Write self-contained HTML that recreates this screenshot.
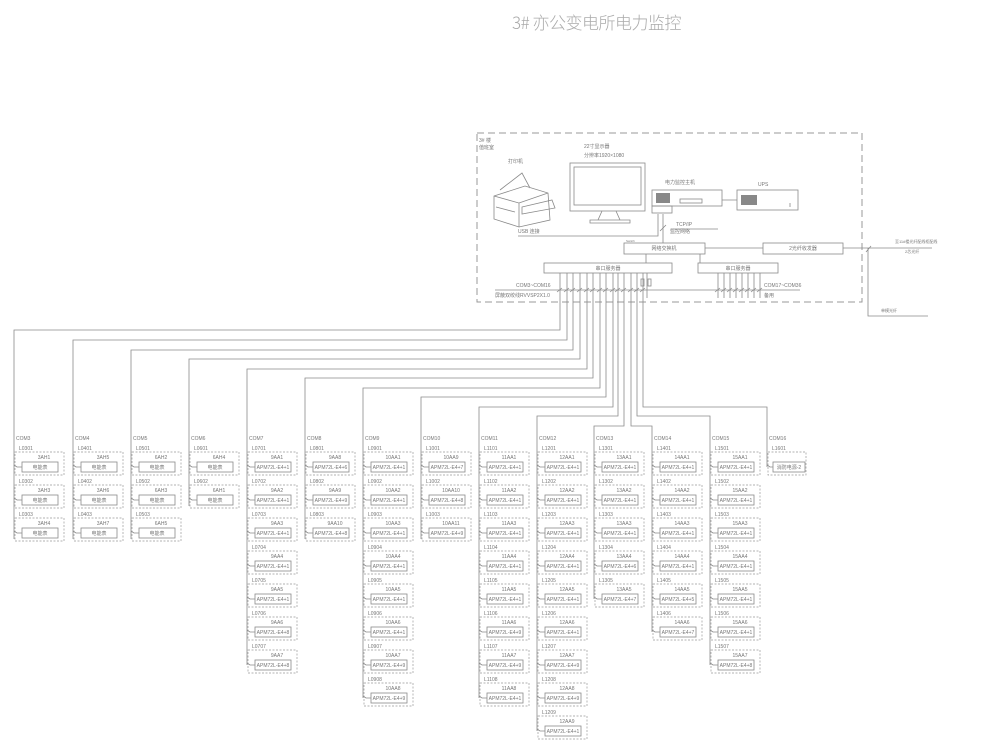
<!DOCTYPE html>
<html><head><meta charset="utf-8">
<style>
html,body{margin:0;padding:0;background:#fff;width:1000px;height:751px;overflow:hidden}
svg{display:block}
text{font-family:"Liberation Sans","Noto Sans CJK SC",sans-serif;fill:#777}
.l{stroke:#8a8a8a;stroke-width:0.8;fill:none}
.d{stroke:#999;stroke-width:0.7;fill:none;stroke-dasharray:2,1.5}
.s{font-size:5px}
.m{font-size:5px;text-anchor:middle}
</style></head><body>
<svg width="1000" height="751" viewBox="0 0 1000 751" xmlns="http://www.w3.org/2000/svg">
<defs>
<g id="bx">
<rect class="d" x="1" y="0" width="49" height="23"/>
<rect class="l" x="8" y="10" width="36" height="10"/>
<path class="l" d="M0 13 L3 15 L8 15"/>
</g>
</defs>
<text x="512" y="29" style="font-size:17px;fill:#aaa;font-family:'Noto Sans CJK SC','Liberation Sans',sans-serif;font-weight:300;letter-spacing:-0.5px">3# 亦公变电所电力监控</text>

<rect x="477" y="133" width="385" height="169" fill="none" stroke="#999" stroke-width="1" stroke-dasharray="7,4"/>
<text x="479" y="142" class="s">3# 楼</text>
<text x="479" y="149" class="s">值班室</text>
<text x="508" y="163" class="s">打印机</text>
<path class="l" d="M494 196 L525 186 L548 193 L550 220 L519 227 L494 219 Z M494 196 L519 203 L519 227 M519 203 L548 193 M500 190 L522 173 L530 188 M522 207 L552 200 L555 208 L522 214 Z M496 207 L515 212"/>
<text x="518" y="233" class="s">USB 连接</text>
<path class="l" d="M518 236 L658 236 L658 214"/>
<text x="584" y="148" class="s">22寸显示器</text>
<text x="584" y="157" class="s">分辨率1920×1080</text>
<rect class="l" x="570" y="163" width="75" height="48"/>
<rect class="l" x="574" y="167" width="67" height="38"/>
<path class="l" d="M602 211 L598 220 L620 220 L616 211 M590 220 L630 220 L630 223 L590 223 Z"/>
<text x="665" y="184" class="s">电力监控主机</text>
<rect class="l" x="652" y="190" width="70" height="16"/>
<rect class="l" x="652" y="206" width="20" height="7"/>
<rect x="656" y="193" width="14" height="10" fill="#888"/>
<rect class="l" x="680" y="199" width="22" height="4"/>
<text x="758" y="186" class="s">UPS</text>
<rect class="l" x="737" y="190" width="61" height="20"/>
<rect x="741" y="195" width="16" height="10" fill="#888"/>
<path class="l" d="M722 200 L737 200 M790 203 L790 207"/>
<text x="676" y="226" class="s">TCP/IP</text>
<text x="670" y="233" class="s">监控网络</text>
<path class="l" d="M663 214 L663 243 M660 231 L666 225 M671 229 L718 229"/>
<rect class="l" x="624" y="243" width="81" height="11"/>
<text x="664" y="250" class="m">网络交换机</text>
<text x="626" y="242" style="font-size:3px">Switch</text>
<rect class="l" x="763" y="243" width="80" height="11"/>
<text x="803" y="250" class="m">2光纤收发器</text>
<path class="l" d="M705 248 L763 248 M843 248 L868 248 M646 254 L646 263 M700 254 L700 263"/>
<rect class="l" x="544" y="263" width="128" height="10"/>
<text x="608" y="270" class="m">串口服务器</text>
<rect class="l" x="698" y="263" width="80" height="10"/>
<text x="738" y="270" class="m">串口服务器</text>
<path class="l" d="M495 290 L800 290"/>
<text x="516" y="287" class="s">COM3~COM16</text>
<text x="495" y="297" class="s">屏蔽双绞线RVVSP2X1.0</text>
<text x="764" y="287" class="s">COM17~COM36</text>
<text x="764" y="297" class="s">备用</text>
<path class="l" d="M567 273 L567 298 M573 273 L573 298 M580 273 L580 298 M587 273 L587 298 M593 273 L593 298 M600 273 L600 298 M606 273 L606 298 M613 273 L613 298 M618 273 L618 298 M624 273 L624 298 M631 273 L631 298 M637 273 L637 298 M560 273 L560 298 M643 273 L643 298 M647 273 L647 298"/>
<rect class="l" x="641" y="279" width="3" height="7"/><rect class="l" x="648" y="279" width="3" height="7"/>
<path class="l" d="M718 273 L718 298 M724 273 L724 298 M730 273 L730 298 M736 273 L736 298 M742 273 L742 298 M748 273 L748 298 M754 273 L754 298 M760 273 L760 298"/>
<path class="l" d="M557 292 L562 288 M564 292 L569 288 M570 292 L575 288 M577 292 L582 288 M584 292 L589 288 M590 292 L595 288 M597 292 L602 288 M603 292 L608 288 M610 292 L615 288 M615 292 L620 288 M621 292 L626 288 M628 292 L633 288 M634 292 L639 288 M640 292 L645 288 M715 292 L720 288 M721 292 L726 288 M727 292 L732 288 M733 292 L738 288 M739 292 L744 288 M745 292 L750 288 M751 292 L756 288 M757 292 L762 288"/>
<path class="l" d="M868 248 L932 248 M868 248 L868 316 L928 316 M866 252 L871 246"/>
<text x="895" y="243" style="font-size:4px">至11#楼光纤配线柜配线</text>
<text x="905" y="253" style="font-size:4px">2芯光纤</text>
<text x="881" y="312" style="font-size:4px">单模光纤</text>

<path class="l" d="M560 298 L560 330 L14 330 L14 539"/>
<path class="l" d="M567 298 L567 340 L73 340 L73 539"/>
<path class="l" d="M573 298 L573 350 L131 350 L131 539"/>
<path class="l" d="M580 298 L580 359 L189 359 L189 506"/>
<path class="l" d="M587 298 L587 369 L247 369 L247 665"/>
<path class="l" d="M593 298 L593 378 L305 378 L305 539"/>
<path class="l" d="M600 298 L600 388 L363 388 L363 698"/>
<path class="l" d="M606 298 L606 397 L421 397 L421 539"/>
<path class="l" d="M613 298 L613 407 L479 407 L479 698"/>
<path class="l" d="M618 298 L618 416 L537 416 L537 731"/>
<path class="l" d="M624 298 L624 426 L594 426 L594 599"/>
<path class="l" d="M631 298 L631 426 L652 426 L652 632"/>
<path class="l" d="M637 298 L637 416 L710 416 L710 665"/>
<path class="l" d="M643 298 L643 407 L767 407 L767 467"/>

<g class="s">
<text x="16" y="440">COM3</text><text x="75" y="440">COM4</text><text x="133" y="440">COM5</text><text x="191" y="440">COM6</text><text x="249" y="440">COM7</text><text x="307" y="440">COM8</text><text x="365" y="440">COM9</text><text x="423" y="440">COM10</text><text x="481" y="440">COM11</text><text x="539" y="440">COM12</text><text x="596" y="440">COM13</text><text x="654" y="440">COM14</text><text x="712" y="440">COM15</text><text x="769" y="440">COM16</text>
</g>

<g transform="translate(14,452)"><use href="#bx"/><text x="5" y="-2" class="s">L0301</text><text x="30" y="7" class="m">3AH1</text><text x="26" y="17" class="m">电能表</text></g>
<g transform="translate(14,485)"><use href="#bx"/><text x="5" y="-2" class="s">L0302</text><text x="30" y="7" class="m">3AH3</text><text x="26" y="17" class="m">电能表</text></g>
<g transform="translate(14,518)"><use href="#bx"/><text x="5" y="-2" class="s">L0303</text><text x="30" y="7" class="m">3AH4</text><text x="26" y="17" class="m">电能表</text></g>
<g transform="translate(73,452)"><use href="#bx"/><text x="5" y="-2" class="s">L0401</text><text x="30" y="7" class="m">3AH5</text><text x="26" y="17" class="m">电能表</text></g>
<g transform="translate(73,485)"><use href="#bx"/><text x="5" y="-2" class="s">L0402</text><text x="30" y="7" class="m">3AH6</text><text x="26" y="17" class="m">电能表</text></g>
<g transform="translate(73,518)"><use href="#bx"/><text x="5" y="-2" class="s">L0403</text><text x="30" y="7" class="m">3AH7</text><text x="26" y="17" class="m">电能表</text></g>
<g transform="translate(131,452)"><use href="#bx"/><text x="5" y="-2" class="s">L0501</text><text x="30" y="7" class="m">6AH2</text><text x="26" y="17" class="m">电能表</text></g>
<g transform="translate(131,485)"><use href="#bx"/><text x="5" y="-2" class="s">L0502</text><text x="30" y="7" class="m">6AH3</text><text x="26" y="17" class="m">电能表</text></g>
<g transform="translate(131,518)"><use href="#bx"/><text x="5" y="-2" class="s">L0503</text><text x="30" y="7" class="m">6AH5</text><text x="26" y="17" class="m">电能表</text></g>
<g transform="translate(189,452)"><use href="#bx"/><text x="5" y="-2" class="s">L0601</text><text x="30" y="7" class="m">6AH4</text><text x="26" y="17" class="m">电能表</text></g>
<g transform="translate(189,485)"><use href="#bx"/><text x="5" y="-2" class="s">L0602</text><text x="30" y="7" class="m">6AH1</text><text x="26" y="17" class="m">电能表</text></g>
<g transform="translate(247,452)"><use href="#bx"/><text x="5" y="-2" class="s">L0701</text><text x="30" y="7" class="m">9AA1</text><text x="26" y="17" class="m">APM72L-E4+1</text></g>
<g transform="translate(247,485)"><use href="#bx"/><text x="5" y="-2" class="s">L0702</text><text x="30" y="7" class="m">9AA2</text><text x="26" y="17" class="m">APM72L-E4+1</text></g>
<g transform="translate(247,518)"><use href="#bx"/><text x="5" y="-2" class="s">L0703</text><text x="30" y="7" class="m">9AA3</text><text x="26" y="17" class="m">APM72L-E4+1</text></g>
<g transform="translate(247,551)"><use href="#bx"/><text x="5" y="-2" class="s">L0704</text><text x="30" y="7" class="m">9AA4</text><text x="26" y="17" class="m">APM72L-E4+1</text></g>
<g transform="translate(247,584)"><use href="#bx"/><text x="5" y="-2" class="s">L0705</text><text x="30" y="7" class="m">9AA5</text><text x="26" y="17" class="m">APM72L-E4+1</text></g>
<g transform="translate(247,617)"><use href="#bx"/><text x="5" y="-2" class="s">L0706</text><text x="30" y="7" class="m">9AA6</text><text x="26" y="17" class="m">APM72L-E4+8</text></g>
<g transform="translate(247,650)"><use href="#bx"/><text x="5" y="-2" class="s">L0707</text><text x="30" y="7" class="m">9AA7</text><text x="26" y="17" class="m">APM72L-E4+8</text></g>
<g transform="translate(305,452)"><use href="#bx"/><text x="5" y="-2" class="s">L0801</text><text x="30" y="7" class="m">9AA8</text><text x="26" y="17" class="m">APM72L-E4+6</text></g>
<g transform="translate(305,485)"><use href="#bx"/><text x="5" y="-2" class="s">L0802</text><text x="30" y="7" class="m">9AA9</text><text x="26" y="17" class="m">APM72L-E4+9</text></g>
<g transform="translate(305,518)"><use href="#bx"/><text x="5" y="-2" class="s">L0803</text><text x="30" y="7" class="m">9AA10</text><text x="26" y="17" class="m">APM72L-E4+8</text></g>
<g transform="translate(363,452)"><use href="#bx"/><text x="5" y="-2" class="s">L0901</text><text x="30" y="7" class="m">10AA1</text><text x="26" y="17" class="m">APM72L-E4+1</text></g>
<g transform="translate(363,485)"><use href="#bx"/><text x="5" y="-2" class="s">L0902</text><text x="30" y="7" class="m">10AA2</text><text x="26" y="17" class="m">APM72L-E4+1</text></g>
<g transform="translate(363,518)"><use href="#bx"/><text x="5" y="-2" class="s">L0903</text><text x="30" y="7" class="m">10AA3</text><text x="26" y="17" class="m">APM72L-E4+1</text></g>
<g transform="translate(363,551)"><use href="#bx"/><text x="5" y="-2" class="s">L0904</text><text x="30" y="7" class="m">10AA4</text><text x="26" y="17" class="m">APM72L-E4+1</text></g>
<g transform="translate(363,584)"><use href="#bx"/><text x="5" y="-2" class="s">L0905</text><text x="30" y="7" class="m">10AA5</text><text x="26" y="17" class="m">APM72L-E4+1</text></g>
<g transform="translate(363,617)"><use href="#bx"/><text x="5" y="-2" class="s">L0906</text><text x="30" y="7" class="m">10AA6</text><text x="26" y="17" class="m">APM72L-E4+1</text></g>
<g transform="translate(363,650)"><use href="#bx"/><text x="5" y="-2" class="s">L0907</text><text x="30" y="7" class="m">10AA7</text><text x="26" y="17" class="m">APM72L-E4+9</text></g>
<g transform="translate(363,683)"><use href="#bx"/><text x="5" y="-2" class="s">L0908</text><text x="30" y="7" class="m">10AA8</text><text x="26" y="17" class="m">APM72L-E4+9</text></g>
<g transform="translate(421,452)"><use href="#bx"/><text x="5" y="-2" class="s">L1001</text><text x="30" y="7" class="m">10AA9</text><text x="26" y="17" class="m">APM72L-E4+7</text></g>
<g transform="translate(421,485)"><use href="#bx"/><text x="5" y="-2" class="s">L1002</text><text x="30" y="7" class="m">10AA10</text><text x="26" y="17" class="m">APM72L-E4+8</text></g>
<g transform="translate(421,518)"><use href="#bx"/><text x="5" y="-2" class="s">L1003</text><text x="30" y="7" class="m">10AA11</text><text x="26" y="17" class="m">APM72L-E4+9</text></g>
<g transform="translate(479,452)"><use href="#bx"/><text x="5" y="-2" class="s">L1101</text><text x="30" y="7" class="m">11AA1</text><text x="26" y="17" class="m">APM72L-E4+1</text></g>
<g transform="translate(479,485)"><use href="#bx"/><text x="5" y="-2" class="s">L1102</text><text x="30" y="7" class="m">11AA2</text><text x="26" y="17" class="m">APM72L-E4+1</text></g>
<g transform="translate(479,518)"><use href="#bx"/><text x="5" y="-2" class="s">L1103</text><text x="30" y="7" class="m">11AA3</text><text x="26" y="17" class="m">APM72L-E4+1</text></g>
<g transform="translate(479,551)"><use href="#bx"/><text x="5" y="-2" class="s">L1104</text><text x="30" y="7" class="m">11AA4</text><text x="26" y="17" class="m">APM72L-E4+1</text></g>
<g transform="translate(479,584)"><use href="#bx"/><text x="5" y="-2" class="s">L1105</text><text x="30" y="7" class="m">11AA5</text><text x="26" y="17" class="m">APM72L-E4+1</text></g>
<g transform="translate(479,617)"><use href="#bx"/><text x="5" y="-2" class="s">L1106</text><text x="30" y="7" class="m">11AA6</text><text x="26" y="17" class="m">APM72L-E4+9</text></g>
<g transform="translate(479,650)"><use href="#bx"/><text x="5" y="-2" class="s">L1107</text><text x="30" y="7" class="m">11AA7</text><text x="26" y="17" class="m">APM72L-E4+9</text></g>
<g transform="translate(479,683)"><use href="#bx"/><text x="5" y="-2" class="s">L1108</text><text x="30" y="7" class="m">11AA8</text><text x="26" y="17" class="m">APM72L-E4+1</text></g>
<g transform="translate(537,452)"><use href="#bx"/><text x="5" y="-2" class="s">L1201</text><text x="30" y="7" class="m">12AA1</text><text x="26" y="17" class="m">APM72L-E4+1</text></g>
<g transform="translate(537,485)"><use href="#bx"/><text x="5" y="-2" class="s">L1202</text><text x="30" y="7" class="m">12AA2</text><text x="26" y="17" class="m">APM72L-E4+1</text></g>
<g transform="translate(537,518)"><use href="#bx"/><text x="5" y="-2" class="s">L1203</text><text x="30" y="7" class="m">12AA3</text><text x="26" y="17" class="m">APM72L-E4+1</text></g>
<g transform="translate(537,551)"><use href="#bx"/><text x="5" y="-2" class="s">L1204</text><text x="30" y="7" class="m">12AA4</text><text x="26" y="17" class="m">APM72L-E4+1</text></g>
<g transform="translate(537,584)"><use href="#bx"/><text x="5" y="-2" class="s">L1205</text><text x="30" y="7" class="m">12AA5</text><text x="26" y="17" class="m">APM72L-E4+1</text></g>
<g transform="translate(537,617)"><use href="#bx"/><text x="5" y="-2" class="s">L1206</text><text x="30" y="7" class="m">12AA6</text><text x="26" y="17" class="m">APM72L-E4+1</text></g>
<g transform="translate(537,650)"><use href="#bx"/><text x="5" y="-2" class="s">L1207</text><text x="30" y="7" class="m">12AA7</text><text x="26" y="17" class="m">APM72L-E4+9</text></g>
<g transform="translate(537,683)"><use href="#bx"/><text x="5" y="-2" class="s">L1208</text><text x="30" y="7" class="m">12AA8</text><text x="26" y="17" class="m">APM72L-E4+9</text></g>
<g transform="translate(537,716)"><use href="#bx"/><text x="5" y="-2" class="s">L1209</text><text x="30" y="7" class="m">12AA9</text><text x="26" y="17" class="m">APM72L-E4+1</text></g>
<g transform="translate(594,452)"><use href="#bx"/><text x="5" y="-2" class="s">L1301</text><text x="30" y="7" class="m">13AA1</text><text x="26" y="17" class="m">APM72L-E4+1</text></g>
<g transform="translate(594,485)"><use href="#bx"/><text x="5" y="-2" class="s">L1302</text><text x="30" y="7" class="m">13AA2</text><text x="26" y="17" class="m">APM72L-E4+1</text></g>
<g transform="translate(594,518)"><use href="#bx"/><text x="5" y="-2" class="s">L1303</text><text x="30" y="7" class="m">13AA3</text><text x="26" y="17" class="m">APM72L-E4+1</text></g>
<g transform="translate(594,551)"><use href="#bx"/><text x="5" y="-2" class="s">L1304</text><text x="30" y="7" class="m">13AA4</text><text x="26" y="17" class="m">APM72L-E4+6</text></g>
<g transform="translate(594,584)"><use href="#bx"/><text x="5" y="-2" class="s">L1305</text><text x="30" y="7" class="m">13AA5</text><text x="26" y="17" class="m">APM72L-E4+7</text></g>
<g transform="translate(652,452)"><use href="#bx"/><text x="5" y="-2" class="s">L1401</text><text x="30" y="7" class="m">14AA1</text><text x="26" y="17" class="m">APM72L-E4+1</text></g>
<g transform="translate(652,485)"><use href="#bx"/><text x="5" y="-2" class="s">L1402</text><text x="30" y="7" class="m">14AA2</text><text x="26" y="17" class="m">APM72L-E4+1</text></g>
<g transform="translate(652,518)"><use href="#bx"/><text x="5" y="-2" class="s">L1403</text><text x="30" y="7" class="m">14AA3</text><text x="26" y="17" class="m">APM72L-E4+1</text></g>
<g transform="translate(652,551)"><use href="#bx"/><text x="5" y="-2" class="s">L1404</text><text x="30" y="7" class="m">14AA4</text><text x="26" y="17" class="m">APM72L-E4+1</text></g>
<g transform="translate(652,584)"><use href="#bx"/><text x="5" y="-2" class="s">L1405</text><text x="30" y="7" class="m">14AA5</text><text x="26" y="17" class="m">APM72L-E4+5</text></g>
<g transform="translate(652,617)"><use href="#bx"/><text x="5" y="-2" class="s">L1406</text><text x="30" y="7" class="m">14AA6</text><text x="26" y="17" class="m">APM72L-E4+7</text></g>
<g transform="translate(710,452)"><use href="#bx"/><text x="5" y="-2" class="s">L1501</text><text x="30" y="7" class="m">15AA1</text><text x="26" y="17" class="m">APM72L-E4+1</text></g>
<g transform="translate(710,485)"><use href="#bx"/><text x="5" y="-2" class="s">L1502</text><text x="30" y="7" class="m">15AA2</text><text x="26" y="17" class="m">APM72L-E4+1</text></g>
<g transform="translate(710,518)"><use href="#bx"/><text x="5" y="-2" class="s">L1503</text><text x="30" y="7" class="m">15AA3</text><text x="26" y="17" class="m">APM72L-E4+1</text></g>
<g transform="translate(710,551)"><use href="#bx"/><text x="5" y="-2" class="s">L1504</text><text x="30" y="7" class="m">15AA4</text><text x="26" y="17" class="m">APM72L-E4+1</text></g>
<g transform="translate(710,584)"><use href="#bx"/><text x="5" y="-2" class="s">L1505</text><text x="30" y="7" class="m">15AA5</text><text x="26" y="17" class="m">APM72L-E4+1</text></g>
<g transform="translate(710,617)"><use href="#bx"/><text x="5" y="-2" class="s">L1506</text><text x="30" y="7" class="m">15AA6</text><text x="26" y="17" class="m">APM72L-E4+1</text></g>
<g transform="translate(710,650)"><use href="#bx"/><text x="5" y="-2" class="s">L1507</text><text x="30" y="7" class="m">15AA7</text><text x="26" y="17" class="m">APM72L-E4+8</text></g>
<g transform="translate(767,452)"><rect class="d" x="1" y="0" width="38" height="23"/><rect class="l" x="6" y="10" width="32" height="10"/><path class="l" d="M0 13 L3 15 L6 15"/><text x="5" y="-2" class="s">L1601</text><text x="22" y="17" class="m">消防电源-2</text></g>
</svg>
</body></html>
